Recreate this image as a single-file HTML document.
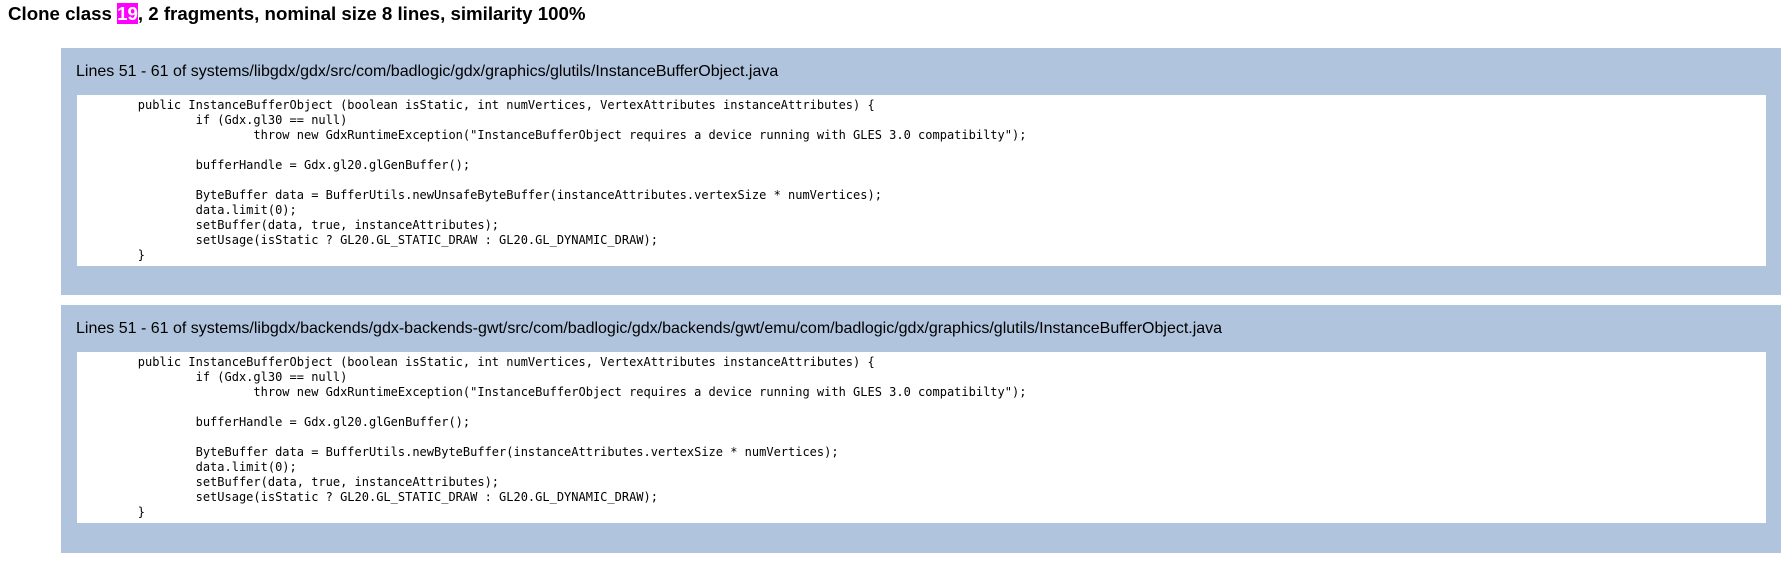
<!DOCTYPE html>
<html><head><style>
body{margin:0;background:#fff;font-family:"Liberation Sans",sans-serif;width:1791px;height:563px;overflow:hidden;position:relative}
h1{position:absolute;left:8px;top:3px;margin:0;font-size:18.7px;font-weight:bold;line-height:22px}
.hl{background:#ff00ff;color:#fff}
.box{position:absolute;left:61px;width:1720px;background:#b0c4de}
.cap{position:absolute;left:15px;top:14px;font-size:16px;line-height:20px}
pre{position:absolute;left:16px;top:47px;width:1689px;height:171px;margin:0;background:#fff;font-family:"DejaVu Sans Mono",monospace;font-size:12px;line-height:15px;padding:3px 0 0 3px;box-sizing:border-box;tab-size:8}
</style></head><body>
<h1>Clone class <span class="hl">19</span>, 2 fragments, nominal size 8 lines, similarity 100%</h1>
<div class="box" style="top:48px;height:247px">
<div class="cap">Lines 51 - 61 of systems/libgdx/gdx/src/com/badlogic/gdx/graphics/glutils/InstanceBufferObject.java</div>
<pre>	public InstanceBufferObject (boolean isStatic, int numVertices, VertexAttributes instanceAttributes) {
		if (Gdx.gl30 == null)
			throw new GdxRuntimeException("InstanceBufferObject requires a device running with GLES 3.0 compatibilty");

		bufferHandle = Gdx.gl20.glGenBuffer();

		ByteBuffer data = BufferUtils.newUnsafeByteBuffer(instanceAttributes.vertexSize * numVertices);
		data.limit(0);
		setBuffer(data, true, instanceAttributes);
		setUsage(isStatic ? GL20.GL_STATIC_DRAW : GL20.GL_DYNAMIC_DRAW);
	}</pre>
</div>
<div class="box" style="top:305px;height:248px">
<div class="cap">Lines 51 - 61 of systems/libgdx/backends/gdx-backends-gwt/src/com/badlogic/gdx/backends/gwt/emu/com/badlogic/gdx/graphics/glutils/InstanceBufferObject.java</div>
<pre>	public InstanceBufferObject (boolean isStatic, int numVertices, VertexAttributes instanceAttributes) {
		if (Gdx.gl30 == null)
			throw new GdxRuntimeException("InstanceBufferObject requires a device running with GLES 3.0 compatibilty");

		bufferHandle = Gdx.gl20.glGenBuffer();

		ByteBuffer data = BufferUtils.newByteBuffer(instanceAttributes.vertexSize * numVertices);
		data.limit(0);
		setBuffer(data, true, instanceAttributes);
		setUsage(isStatic ? GL20.GL_STATIC_DRAW : GL20.GL_DYNAMIC_DRAW);
	}</pre>
</div>
</body></html>
